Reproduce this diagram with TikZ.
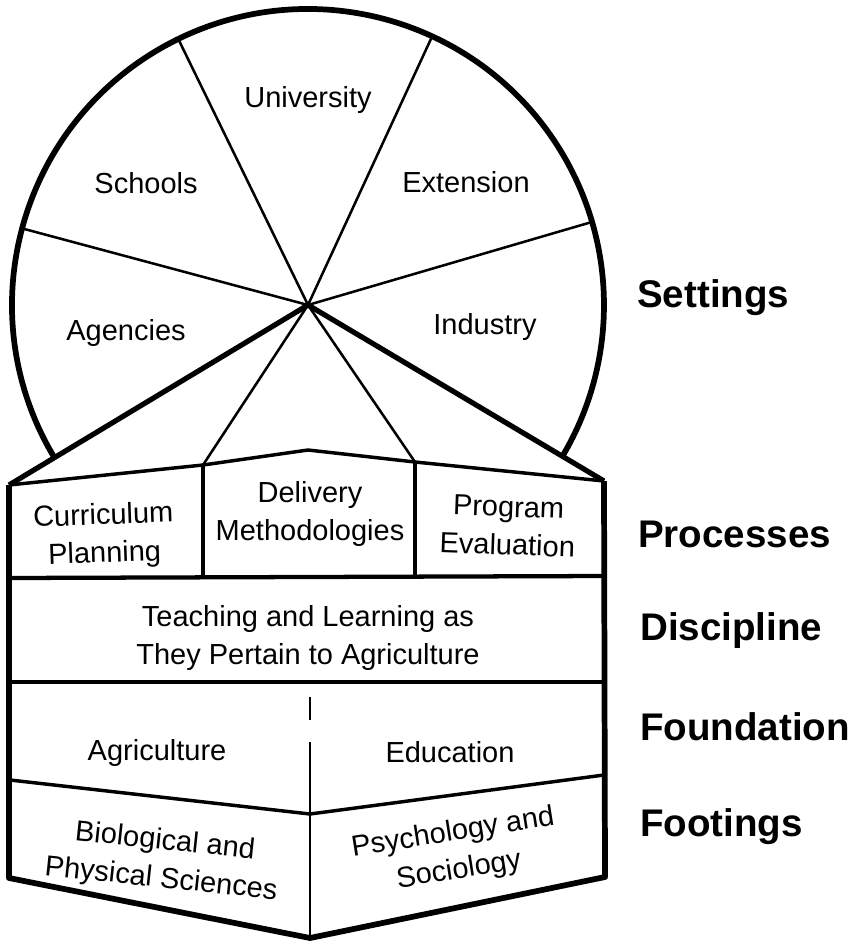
\documentclass[tikz,border=0pt]{standalone}
\usepackage{fontspec}
\setmainfont{Liberation Sans}
\usetikzlibrary{calc}

\begin{document}
\begin{tikzpicture}[x=0.75pt,y=-0.75pt,
	rim/.style={line width=4.3pt,line join=round},
	spoke/.style={line width=1.9pt},
	seam/.style={line width=2.6pt},
	field/.style={font=\fontsize{21.75}{28.5}\selectfont,align=center,inner sep=0pt},
	level/.style={font=\fontsize{28.9}{30}\selectfont\bfseries,anchor=base west,inner sep=0pt}]

	\useasboundingbox (0,0) rectangle (861,946);

	% wheel of settings
	\coordinate (hub) at (308,305);
	\draw[rim] ($(hub)+(149.3:296)$) arc[start angle=149.3,end angle=390.5,radius=296];
	\foreach \ang/\nm in {-16.3/ind,-65.2/ext,-116/uni,-165/sch}
		\draw[spoke] (hub) -- ($(hub)+(\ang:294)$) coordinate (\nm);

	% the block below
	\coordinate (tl) at (9,485);
	\coordinate (tr) at (604,481);
	\coordinate (bl) at (9,878);
	\coordinate (br) at (605,877);
	\coordinate (bm) at (310,938);
	\coordinate (pl) at (203,465);
	\coordinate (pk) at (308,450);
	\coordinate (pr) at (415,462);
	\draw[rim,line width=3.9pt] (tl) -- (hub) -- (tr);
	\draw[rim] (tl) -- (bl) -- (bm) -- (br) -- (tr);
	\draw[spoke] (hub) -- (pl);
	\draw[spoke] (hub) -- (pr);
	\draw[seam] (tl) -- (pl) -- (pk) -- (pr) -- (tr);

	\coordinate (pbl) at (9,578);
	\coordinate (pbr) at (605,576);
	\draw[seam,line width=3.2pt] (pbl) -- (pbr);
	\draw[seam] (pl) -- (pl |- pbl);
	\draw[seam] (pr) -- (pr |- pbl);

	\coordinate (dbl) at (9,682);
	\coordinate (dbr) at (605,682);
	\draw[seam,line width=3.2pt] (dbl) -- (dbr);

	\coordinate (fl) at (10,780);
	\coordinate (fm) at (310,814);
	\coordinate (fr) at (604,775);
	\draw[seam] (fl) -- (fm) -- (fr);
	\coordinate (gap1) at (310,697);
	\coordinate (gap2) at (310,720);
	\coordinate (gap3) at (310,742);
	\draw[spoke,line width=1.3pt] (gap1) -- (gap2);
	\draw[spoke,line width=1.3pt] (gap3) -- (bm);

	% texts
	\node[field] (university) at (308,100) {University};
	\node[field] (schools) at (146,183) {Schools};
	\node[field] (extension) at (466,182) {Extension};
	\node[field] (agencies) at (126,333) {Agencies};
	\node[field] (industry) at (485,327) {Industry};

	\node[field,rotate=2] (curriculum) at (104,536) {Curriculum\\Planning};
	\node[field] (delivery) at (310,514) {Delivery\\Methodologies};
	\node[field,rotate=-2] (program) at (508,526) {Program\\Evaluation};
	\node[field] (teaching) at (308,638) {Teaching and Learning as\\They Pertain to Agriculture};
	\node[field] (agriculture) at (157,753) {Agriculture};
	\node[field] (education) at (450,752) {Education};
	\node[field,rotate=-6] (biological) at (163,861) {Biological and\\Physical Sciences};
	\node[field,rotate=9] (psychology) at (456,852) {Psychology and\\Sociology};

	\node[level] (settings) at (637,307) {Settings};
	\node[level] (processes) at (638,547) {Processes};
	\node[level] (discipline) at (640,640) {Discipline};
	\node[level] (foundation) at (640,740) {Foundation};
	\node[level] (footings) at (640,836) {Footings};
\end{tikzpicture}
\end{document}
